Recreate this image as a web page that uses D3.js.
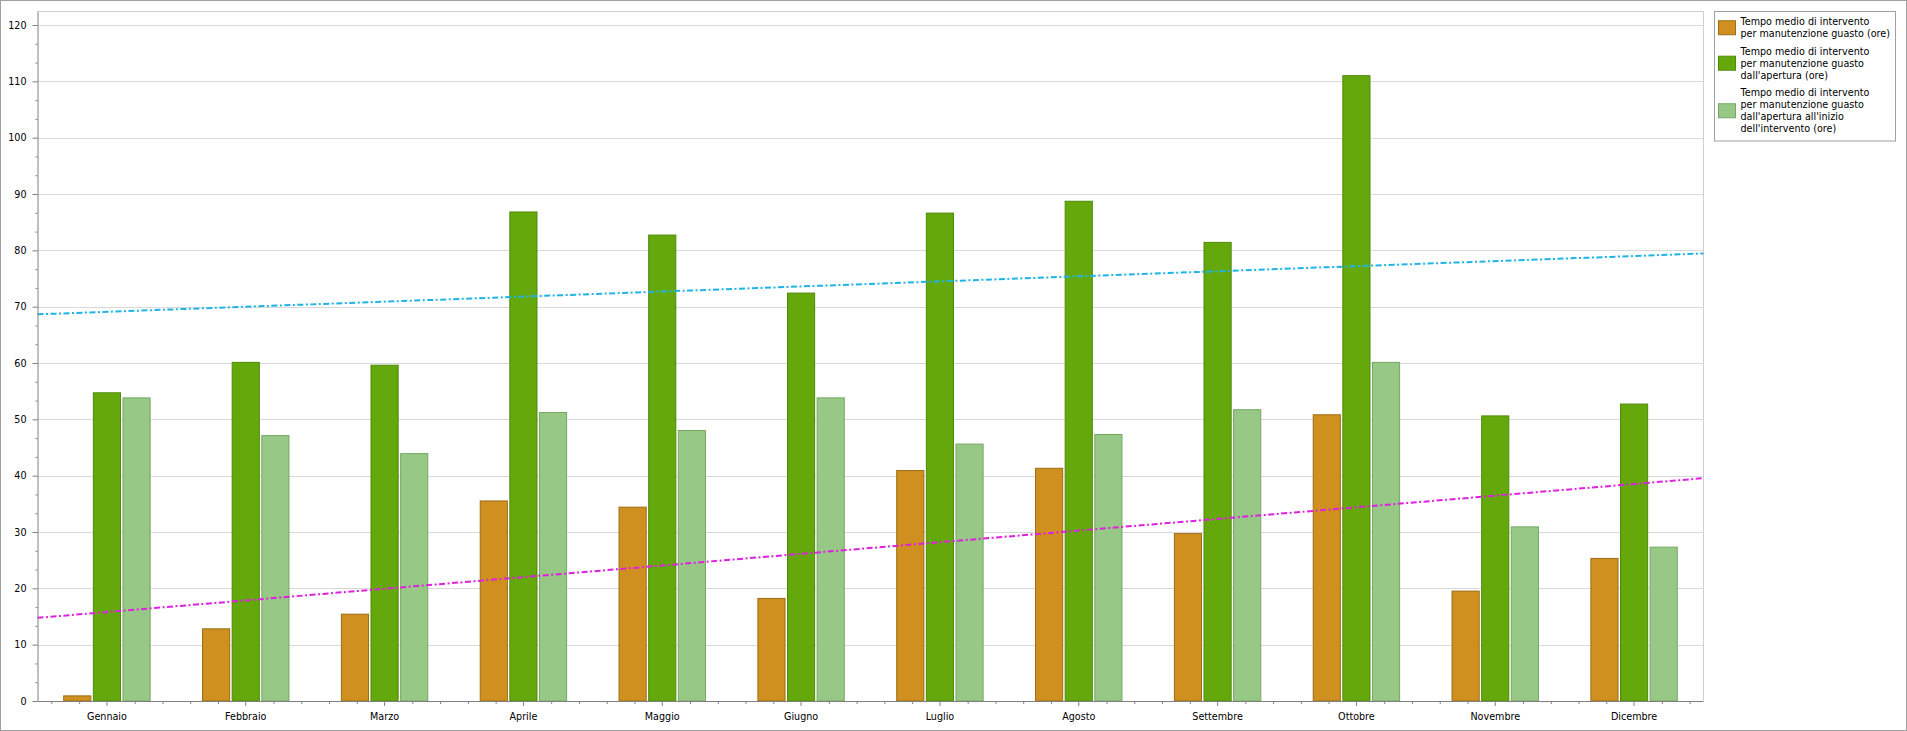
<!DOCTYPE html>
<html>
<head>
<meta charset="utf-8">
<script src="https://cdn.jsdelivr.net/npm/d3@7"></script>
<style>
  html, body { margin: 0; padding: 0; background: #fff; }
  svg { display: block; }
  text { font-family: "DejaVu Sans", sans-serif; font-size: 9.6px; fill: #000; }
</style>
</head>
<body>
<svg id="chart" width="1907" height="731"></svg>
<script>
// ---- DATA ----
const months = ["Gennaio","Febbraio","Marzo","Aprile","Maggio","Giugno","Luglio","Agosto","Settembre","Ottobre","Novembre","Dicembre"];
const seriesNames = [
  "Tempo medio di intervento per manutenzione guasto (ore)",
  "Tempo medio di intervento per manutenzione guasto dall'apertura (ore)",
  "Tempo medio di intervento per manutenzione guasto dall'apertura all'inizio dell'intervento (ore)"
];
const legendLines = [
  ["Tempo medio di intervento", "per manutenzione guasto (ore)"],
  ["Tempo medio di intervento", "per manutenzione guasto", "dall'apertura (ore)"],
  ["Tempo medio di intervento", "per manutenzione guasto", "dall'apertura all'inizio", "dell'intervento (ore)"]
];
const tempoGuasto    = [1.0, 12.9, 15.5, 35.6, 34.5, 18.3, 41.0, 41.4, 29.8, 50.9, 19.6, 25.4];
const tempoApertura  = [54.8, 60.2, 59.7, 86.9, 82.8, 72.5, 86.7, 88.8, 81.5, 111.1, 50.7, 52.8];
const tempoInizio    = [53.9, 47.2, 44.0, 51.3, 48.1, 53.9, 45.7, 47.4, 51.8, 60.2, 31.0, 27.4];
const yTicks = [0,10,20,30,40,50,60,70,80,90,100,110,120];
const yMax = 122.4;

// ---- STYLE ----
const fills   = ["#cf9020", "#65a80c", "#98c886"];
const strokes = ["#9c6c16", "#4e8a08", "#74a863"];
const trendColors = ["#e020e0", "#1eb4e6"]; // trend of series 0 and series 1

const values = [tempoGuasto, tempoApertura, tempoInizio];

const svg = d3.select("#chart");
const W = 1907, H = 731;
const plot = { left: 37.5, right: 1703.5, top: 11.5, bottom: 701 };

// outer frame
svg.append("rect").attr("x",0.5).attr("y",0.5).attr("width",W-1).attr("height",H-1)
  .attr("fill","#fff").attr("stroke","#a0a0a0");

const x0 = d3.scaleBand().domain(months).range([plot.left, plot.right]).padding(0);
const groupW = 87.4;
const x1 = d3.scaleBand().domain([0,1,2]).range([0, groupW]).paddingInner(0.05);
const y = d3.scaleLinear().domain([0, yMax]).range([plot.bottom, plot.top]);

// plot frame top & right
svg.append("path")
  .attr("d", `M${plot.left},${plot.top}H${plot.right}V${plot.bottom}`)
  .attr("fill","none").attr("stroke","#d0d0d0");

// gridlines
svg.append("g").selectAll("line").data(yTicks.filter(d => d > 0)).join("line")
  .attr("x1", plot.left).attr("x2", plot.right)
  .attr("y1", d => Math.round(y(d)) + 0.5).attr("y2", d => Math.round(y(d)) + 0.5)
  .attr("stroke", "#d9d9d9");

// bars
const groups = svg.append("g").selectAll("g").data(months).join("g")
  .attr("transform", d => `translate(${x0(d) + (x0.bandwidth() - groupW) / 2},0)`);
groups.selectAll("rect").data((m, i) => values.map((s, k) => ({k, v: s[i]}))).join("rect")
  .attr("x", d => x1(d.k) + 0.5)
  .attr("y", d => y(d.v) + 0.5)
  .attr("width", x1.bandwidth() - 1)
  .attr("height", d => plot.bottom - y(d.v) - 0.5)
  .attr("fill", d => fills[d.k])
  .attr("stroke", d => strokes[d.k])
  .attr("stroke-width", 1);

// trend lines (least squares regression over month index)
function regression(arr) {
  const n = arr.length, mx = (n - 1) / 2, my = d3.mean(arr);
  let sxy = 0, sxx = 0;
  arr.forEach((v, i) => { sxy += (i - mx) * (v - my); sxx += (i - mx) * (i - mx); });
  const b = sxy / sxx;
  return t => my + b * (t - mx);
}
const step = x0.step();
const idxToX = t => x0(months[0]) + x0.bandwidth() / 2 + t * step;
[[tempoGuasto, trendColors[0]], [tempoApertura, trendColors[1]]].forEach(([arr, col]) => {
  const f = regression(arr);
  const tL = -0.5, tR = months.length - 0.5;
  svg.append("line")
    .attr("x1", idxToX(tL)).attr("y1", y(f(tL)))
    .attr("x2", idxToX(tR)).attr("y2", y(f(tR)))
    .attr("stroke", col).attr("stroke-width", 2)
    .attr("stroke-dasharray", "6,2.5,2,2.5");
});

// y axis
const yAxis = d3.axisLeft(y).tickValues(yTicks).tickSize(5).tickPadding(6).tickFormat(d3.format("d"));
const gy = svg.append("g").attr("transform", `translate(${plot.left},0)`).call(yAxis);
const yMinor = d3.range(0, 121, 10 / 3).filter(v => Math.abs(v / 10 - Math.round(v / 10)) > 0.01);
const gyMinor = svg.append("g").attr("transform", `translate(${plot.left},0)`)
  .call(d3.axisLeft(y).tickValues(yMinor).tickSize(2).tickFormat(""));
gyMinor.select(".domain").remove();
gy.select(".domain").attr("d", `M0.5,${plot.top}V${plot.bottom}`);

// x axis
const xAxis = d3.axisBottom(x0).tickSize(5).tickPadding(6);
const gx = svg.append("g").attr("transform", `translate(0,${plot.bottom})`).call(xAxis);
const xMinor = [];
months.forEach(m => { [-2,-1,1,2].forEach(k => xMinor.push(x0(m) + x0.bandwidth()/2 + k * step / 5)); });
const xm = d3.scaleLinear().domain([0, W]).range([0, W]);
const gxMinor = svg.append("g").attr("transform", `translate(0,${plot.bottom})`)
  .call(d3.axisBottom(xm).tickValues(xMinor).tickSize(3).tickFormat(""));
gxMinor.select(".domain").remove();
gx.select(".domain").attr("d", `M${plot.left},0.5H${plot.right}`);

[gy, gyMinor, gx, gxMinor].forEach(g => {
  g.selectAll("line").attr("stroke", "#808080");
  g.selectAll(".domain").attr("stroke", "#808080");
  g.selectAll("text").attr("font-family", null).attr("font-size", null).attr("fill", "#000");
});
gx.selectAll("text").attr("dy", "0.8em");

// legend
const leg = { x: 1714.5, y: 11.5, w: 181, h: 129.5 };
svg.append("rect").attr("x", leg.x).attr("y", leg.y).attr("width", leg.w).attr("height", leg.h)
  .attr("fill", "#fff").attr("stroke", "#a0a0a0");
const lineH = 12.1, groupGap = 17.3;
let cy = 21.7;
legendLines.forEach((lines, k) => {
  const first = cy, last = cy + (lines.length - 1) * lineH;
  const mid = (first + last) / 2;
  svg.append("rect").attr("x", 1718.5).attr("y", mid - 7).attr("width", 17).attr("height", 14)
    .attr("fill", fills[k]).attr("stroke", strokes[k]);
  lines.forEach((t, j) => {
    svg.append("text").attr("x", 1740.5).attr("y", cy + j * lineH)
      .attr("dominant-baseline", "central").text(t);
  });
  cy = last + groupGap;
});
</script>
</body>
</html>
